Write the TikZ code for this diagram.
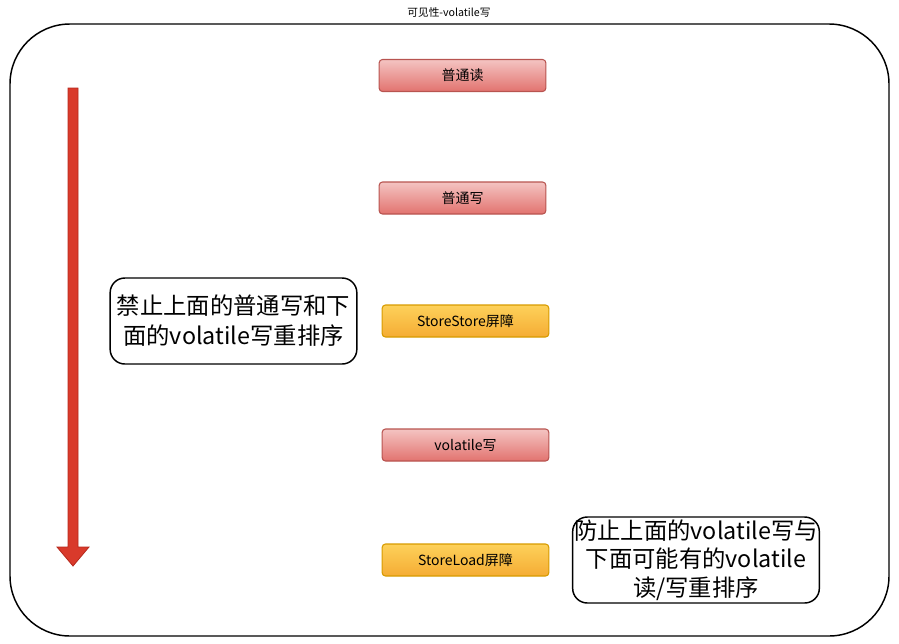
\documentclass[tikz,border=0pt]{standalone}
\usepackage{fontspec}
\setmainfont{Noto Sans CJK SC}
\usetikzlibrary{positioning}

\definecolor{redtop}{HTML}{F4C4C2}
\definecolor{redbot}{HTML}{E2736F}
\definecolor{redline}{HTML}{B85450}
\definecolor{orgtop}{HTML}{FDD15A}
\definecolor{orgbot}{HTML}{F5AC34}
\definecolor{orgline}{HTML}{D79B00}
\definecolor{arrowred}{HTML}{D93A2B}
\definecolor{arrowline}{HTML}{B5281C}

\tikzset{
  opbox/.style={draw=redline, top color=redtop, bottom color=redbot,
    rounded corners=2.5pt, line width=0.8pt,
    minimum width=125pt, minimum height=24pt, inner sep=0pt,
    font=\fontsize{10.5pt}{12pt}\selectfont},
  fencebox/.style={opbox, draw=orgline, top color=orgtop, bottom color=orgbot},
  notebox/.style={draw, line width=1.1pt, rounded corners=11pt, fill=white,
    minimum width=185pt, minimum height=64.5pt, inner sep=0pt, align=center,
    font=\fontsize{17.5pt}{22.5pt}\selectfont}
}

\begin{document}
\begin{tikzpicture}[x=0.75pt,y=-0.75pt]
\useasboundingbox (0,0) rectangle (899,643);

% title and frame
\node (title) at (449,12) {\fontsize{8pt}{9pt}\selectfont 可见性-volatile写};
\draw[line width=1.1pt, rounded corners=45pt] (10,24) rectangle (889,636);

% direction of the program order
\filldraw[fill=arrowred, draw=arrowline, line width=0.6pt]
  (68,88) -- (78,88) -- (78,547) -- (89,547) -- (73,566)
  -- (57,547) -- (68,547) -- cycle;

% the operations
\node[opbox] (read) at (462.5,75.5) {普通读};
\node[opbox] (write) at (462.5,198) {普通写};
\node[fencebox] (storestore) at (465.5,321) {StoreStore屏障};
\node[opbox] (vwrite) at (465.5,445) {volatile写};
\node[fencebox] (storeload) at (465.5,560) {StoreLoad屏障};

% notes
\node[notebox] (note1) at (233.5,321)
  {禁止上面的普通写和下\\面的volatile写重排序};
\node[notebox, font=\fontsize{17.5pt}{21.5pt}\selectfont] (note2) at (696,560)
  {防止上面的volatile写与\\下面可能有的volatile\\读/写重排序};

\end{tikzpicture}
\end{document}
